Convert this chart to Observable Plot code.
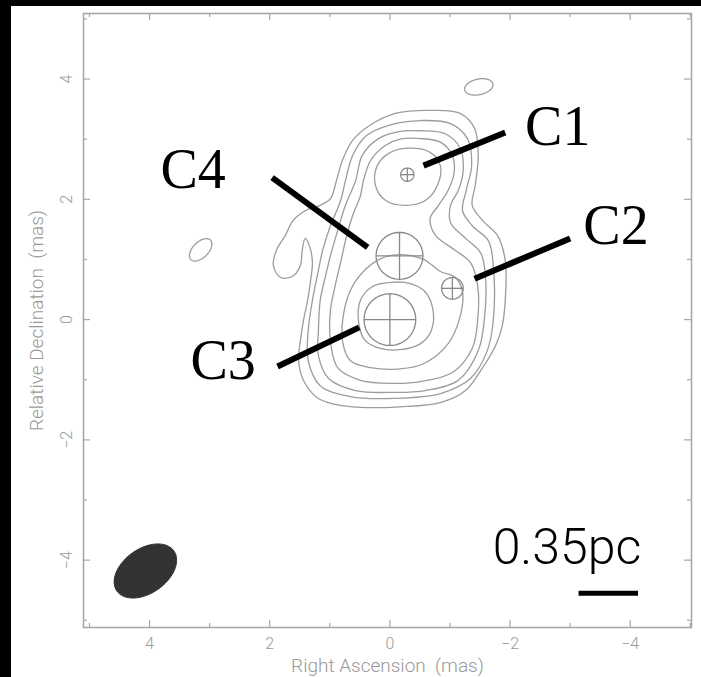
<!DOCTYPE html>
<html><head><meta charset="utf-8">
<script src="https://cdn.jsdelivr.net/npm/d3@7"></script>
<script src="https://cdn.jsdelivr.net/npm/@observablehq/plot@0.6"></script>
<style>
html,body{margin:0;padding:0;background:#000;width:701px;height:677px;overflow:hidden}
#wrap{position:absolute;left:11px;top:6px;width:690px;height:671px;background:#fff}
</style></head><body><div id="wrap"></div>
<script>
// ---- axis ticks ----
const majorTicks = [4, 2, 0, -2, -4];
const minorTicks = [5, 3, 1, -1, -3, -5];
const tickLabels = ["4", "2", "0", "\u22122", "\u22124"];
const xTitle = "Right Ascension\u00a0\u00a0(mas)";
const yTitle = "Relative Declination\u00a0\u00a0(mas)";

// ---- contour levels (mas, RA offset / Dec offset) ----
const contour1 = [[-0.67,3.48],[-1.17,3.43],[-1.41,3.18],[-1.47,2.73],[-1.42,2.23],[-1.37,1.90],[-1.54,1.65],[-1.79,1.40],[-1.92,0.98],[-1.92,0.32],[-1.87,-0.10],[-1.76,-0.43],[-1.51,-0.85],[-1.26,-1.18],[-0.84,-1.38],[-0.17,-1.45],[0.49,-1.46],[0.91,-1.41],[1.21,-1.30],[1.44,-1.01],[1.52,-0.68],[1.49,-0.35],[1.44,-0.02],[1.37,0.32],[1.32,0.65],[1.29,0.95],[1.34,1.23],[1.41,1.35],[1.46,1.15],[1.49,0.90],[1.62,0.72],[1.82,0.70],[1.94,0.90],[1.89,1.15],[1.74,1.40],[1.61,1.65],[1.41,1.81],[1.16,1.90],[0.99,2.01],[0.89,2.31],[0.79,2.65],[0.62,2.98],[0.32,3.24],[-0.09,3.43]];
const contour2 = [[-0.51,3.31],[-1.01,3.26],[-1.29,3.01],[-1.36,2.56],[-1.27,2.15],[-1.21,1.81],[-1.37,1.56],[-1.64,1.31],[-1.72,0.90],[-1.72,-0.02],[-1.62,-0.52],[-1.34,-0.98],[-0.84,-1.23],[-0.06,-1.31],[0.66,-1.28],[1.16,-1.10],[1.36,-0.68],[1.36,-0.18],[1.29,0.32],[1.19,0.82],[1.12,1.15],[0.99,1.56],[0.82,1.98],[0.74,2.31],[0.62,2.73],[0.39,3.06],[-0.01,3.24]];
const contour3 = [[-0.51,3.14],[-0.92,3.09],[-1.17,2.85],[-1.22,2.48],[-1.14,2.15],[-1.01,1.90],[-1.01,1.61],[-1.26,1.35],[-1.51,1.11],[-1.59,0.73],[-1.57,-0.02],[-1.47,-0.52],[-1.14,-1.01],[-0.59,-1.18],[-0.06,-1.21],[0.57,-1.18],[1.02,-0.98],[1.19,-0.60],[1.19,-0.18],[1.16,0.32],[1.07,0.73],[0.99,1.06],[0.87,1.48],[0.74,1.90],[0.57,2.31],[0.46,2.73],[0.19,3.01],[-0.17,3.13]];
const contour4 = [[-0.51,3.01],[-0.84,2.95],[-1.04,2.73],[-1.07,2.45],[-0.97,2.15],[-0.81,1.90],[-0.67,1.68],[-0.76,1.40],[-1.09,1.15],[-1.34,0.95],[-1.46,0.57],[-1.46,-0.02],[-1.37,-0.48],[-1.04,-0.88],[-0.51,-1.03],[-0.06,-1.06],[0.49,-1.01],[0.87,-0.80],[0.99,-0.35],[0.99,0.15],[0.91,0.57],[0.82,0.95],[0.74,1.31],[0.62,1.73],[0.49,2.06],[0.44,2.31],[0.32,2.65],[0.07,2.90],[-0.17,3.00]];
const contour5a = [[-0.34,2.85],[-0.67,2.78],[-0.84,2.56],[-0.79,2.23],[-0.59,1.98],[-0.26,1.90],[0.07,1.98],[0.24,2.23],[0.21,2.56],[-0.01,2.78]];
const contour5b = [[0.16,1.01],[-0.17,1.08],[-0.56,1.00],[-0.84,0.80],[-1.09,0.70],[-1.21,0.45],[-1.16,0.02],[-0.97,-0.40],[-0.57,-0.73],[-0.17,-0.82],[0.32,-0.80],[0.66,-0.68],[0.79,-0.35],[0.77,0.10],[0.66,0.48],[0.46,0.78]];
const contour6 = [[-0.01,0.62],[-0.34,0.60],[-0.57,0.48],[-0.71,0.20],[-0.69,-0.18],[-0.51,-0.40],[-0.17,-0.50],[0.16,-0.48],[0.41,-0.35],[0.52,-0.05],[0.49,0.32],[0.29,0.55]];
const contours = [contour1, contour2, contour3, contour4, contour5a, contour5b, contour6];

// isolated small contour islands: [x, y, semi-major, semi-minor, angle deg]
const islandX = [3.15, -1.48];
const islandY = [1.16, 3.87];
const islandA = [0.23, 0.24];
const islandB = [0.13, 0.13];
const islandAngle = [45, 12];

// model components (circle + cross)
const compNames = ["C1", "C2", "C3", "C4"];
const compX = [-0.29, -1.04, 0.00, -0.16];
const compY = [2.41, 0.52, 0.00, 1.06];
const compR = [0.11, 0.18, 0.43, 0.39];

// labels and leader lines
const labelX = [-2.25, -3.22, 3.32, 3.82];
const labelY = [2.90, 1.26, -0.98, 2.18];
const leaderX1 = [-0.56, -1.41, 0.51, 0.37];
const leaderY1 = [2.56, 0.68, -0.13, 1.20];
const leaderX2 = [-1.92, -3.00, 1.87, 1.96];
const leaderY2 = [3.11, 1.35, -0.78, 2.36];

// restoring beam
const beam = {x: 4.07, y: -4.18, a: 0.58, b: 0.37, angle: 35};

// scale bar
const scaleText = "0.35pc";
const scaleTextX = -1.71, scaleTextY = -4.06;
const scaleBarX1 = -3.14, scaleBarX2 = -4.13, scaleBarY = -4.55;

// ---- build geometry ----
function ellipse(cx, cy, a, b, angDeg, id) {
  const th = angDeg * Math.PI / 180, pts = [];
  for (let k = 0; k < 72; k++) {
    const t = 2 * Math.PI * k / 72;
    const ex = a * Math.cos(t), ey = b * Math.sin(t);
    const rx = ex * Math.cos(th) - ey * Math.sin(th);
    const ry = ex * Math.sin(th) + ey * Math.cos(th);
    pts.push({x: cx - rx, y: cy + ry, id});
  }
  return pts;
}
const contourRows = contours.flatMap((c, i) => c.map(([x, y]) => ({x, y, id: "c" + i})));
const islandRows = islandX.flatMap((x, i) => ellipse(x, islandY[i], islandA[i], islandB[i], islandAngle[i], "i" + i));
const circleRows = compX.flatMap((x, i) => ellipse(x, compY[i], compR[i], compR[i], 0, compNames[i]));
const crossRows = compX.flatMap((x, i) => [
  {x1: x + compR[i], x2: x - compR[i], y1: compY[i], y2: compY[i]},
  {x1: x, x2: x, y1: compY[i] - compR[i], y2: compY[i] + compR[i]}
]);
const beamRows = ellipse(beam.x, beam.y, beam.a, beam.b, beam.angle, "beam");
const labels = compNames.map((n, i) => ({n, x: labelX[i], y: labelY[i]}));
const leaders = compNames.map((n, i) => ({x1: leaderX1[i], y1: leaderY1[i], x2: leaderX2[i], y2: leaderY2[i]}));

const grey = "#9c9c9c";
const axisGrey = "#a8a8a8";
const textGrey = "#999";
const tickFont = "Roboto, 'Liberation Sans', sans-serif";

const chart = Plot.plot({
  width: 690, height: 671,
  marginLeft: 72, marginRight: 10, marginTop: 7, marginBottom: 50,
  style: {background: "#fff", overflow: "visible"},
  x: {domain: [5.1, -5.02], axis: null},
  y: {domain: [-5.12, 5.09], axis: null},
  marks: [
    // ticks, inward
    Plot.tickX(majorTicks, {x: d => d, insetTop: 607, stroke: axisGrey, strokeWidth: 1.2}),
    Plot.tickX(majorTicks, {x: d => d, insetBottom: 607, stroke: axisGrey, strokeWidth: 1.2}),
    Plot.tickX(minorTicks, {x: d => d, insetTop: 610, stroke: axisGrey, strokeWidth: 1.2}),
    Plot.tickX(minorTicks, {x: d => d, insetBottom: 610, stroke: axisGrey, strokeWidth: 1.2}),
    Plot.tickY(majorTicks, {y: d => d, insetRight: 601, stroke: axisGrey, strokeWidth: 1.2}),
    Plot.tickY(majorTicks, {y: d => d, insetLeft: 601, stroke: axisGrey, strokeWidth: 1.2}),
    Plot.tickY(minorTicks, {y: d => d, insetRight: 604, stroke: axisGrey, strokeWidth: 1.2}),
    Plot.tickY(minorTicks, {y: d => d, insetLeft: 604, stroke: axisGrey, strokeWidth: 1.2}),
    Plot.frame({stroke: axisGrey, strokeWidth: 1.6}),
    // tick labels
    Plot.text(majorTicks, {x: d => d, frameAnchor: "bottom", dy: 16, lineAnchor: "middle", textAnchor: "middle",
      text: (d, i) => tickLabels[i], fill: textGrey, fontSize: 16, fontWeight: 300, fontFamily: tickFont}),
    Plot.text(majorTicks, {y: d => d, frameAnchor: "left", dx: -17, rotate: -90, lineAnchor: "middle", textAnchor: "middle",
      text: (d, i) => tickLabels[i], fill: textGrey, fontSize: 16, fontWeight: 300, fontFamily: tickFont}),
    Plot.text([xTitle], {frameAnchor: "bottom", dy: 38, lineAnchor: "middle", textAnchor: "middle", text: d => d,
      fill: textGrey, fontSize: 19, fontWeight: 300, fontFamily: tickFont}),
    Plot.text([yTitle], {frameAnchor: "left", dx: -47, rotate: -90, lineAnchor: "middle", textAnchor: "middle", text: d => d,
      fill: textGrey, fontSize: 19, fontWeight: 300, fontFamily: tickFont}),
    // contours
    Plot.line(contourRows, {x: "x", y: "y", z: "id", curve: "catmull-rom-closed", stroke: grey, strokeWidth: 1.3}),
    Plot.line(islandRows, {x: "x", y: "y", z: "id", curve: "linear-closed", stroke: grey, strokeWidth: 1.3}),
    // components
    Plot.line(circleRows, {x: "x", y: "y", z: "id", curve: "linear-closed", stroke: "#888", strokeWidth: 1.3}),
    Plot.link(crossRows, {x1: "x1", x2: "x2", y1: "y1", y2: "y2", stroke: "#888", strokeWidth: 1.3}),
    // beam
    Plot.line(beamRows, {x: "x", y: "y", curve: "linear-closed", fill: "#333", stroke: "#333", strokeWidth: 1}),
    // leaders and labels
    Plot.link(leaders, {x1: "x1", y1: "y1", x2: "x2", y2: "y2", stroke: "#000", strokeWidth: 6}),
    Plot.text(labels, {x: "x", y: "y", text: "n", textAnchor: "start", lineAnchor: "bottom",
      fontFamily: "Liberation Serif", fontSize: 56, fill: "#000"}),
    // scale bar
    Plot.text([scaleText], {x: scaleTextX, y: scaleTextY, text: d => d, textAnchor: "start", lineAnchor: "bottom",
      fontFamily: "Roboto, 'Liberation Sans', sans-serif", fontWeight: 300, fontSize: 50, fill: "#000"}),
    Plot.link([0], {x1: scaleBarX1, x2: scaleBarX2, y1: scaleBarY, y2: scaleBarY, stroke: "#000", strokeWidth: 5})
  ]
});
document.getElementById("wrap").appendChild(chart);
</script></body></html>
